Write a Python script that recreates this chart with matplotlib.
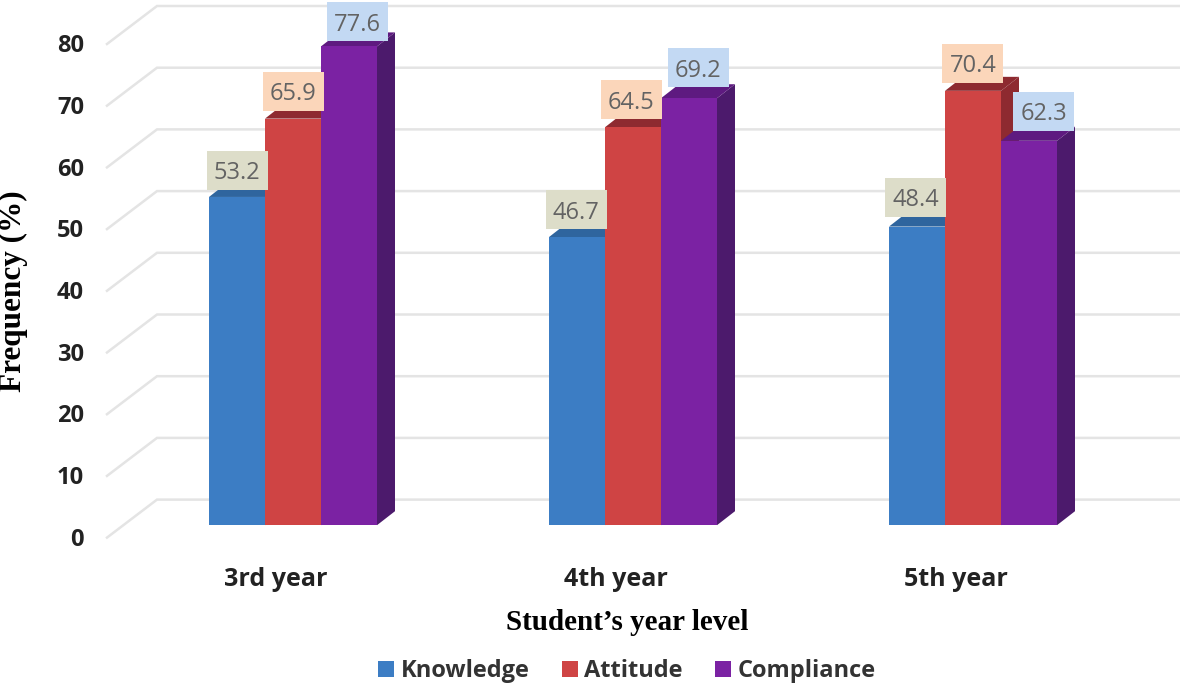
import matplotlib
matplotlib.use("Agg")
import matplotlib.pyplot as plt
from matplotlib.patches import Patch, Rectangle
from matplotlib.transforms import Affine2D

categories = ["3rd year", "4th year", "5th year"]
knowledge = [53.2, 46.7, 48.4]
attitude = [65.9, 64.5, 70.4]
compliance = [77.6, 69.2, 62.3]
y_ticks = [0, 10, 20, 30, 40, 50, 60, 70, 80]

W, H = 1180, 688
SX, SY = 340.0, 6.17           # pixels per category, pixels per percent
PX, PY = 1 / SX, 1 / SY
L, R, T, B = 107, 1180, 0, 545 # axes box, pixels
X0, Y0 = 293.0, 525.2          # pixel of category 0 and of value 0

fig = plt.figure(figsize=(W / 100, H / 100), dpi=100, facecolor="white")
ax = fig.add_axes([L / W, 1 - B / H, (R - L) / W, (B - T) / H])
ax.set_xlim((L - X0) / SX, (R - X0) / SX)
ax.set_ylim((Y0 - B) / SY, (Y0 - T) / SY)
for s in ax.spines.values():
    s.set_visible(False)

TICK_FONT = "Open Sans"
SERIF = "Liberation Serif"
GRID = "#E4E4E4"
BAR_W = 56 * PX
DX, DY = 18 * PX, 14 * PY

# 3D chart walls
BACK_X = (157 - X0) / SX
BACK_DY = 25.6 * PY
FRONT_DY = -12.4 * PY
xr = (R - X0) / SX
xl = (L - X0) / SX
for v in y_ticks:
    ax.plot([xl, BACK_X, xr], [v + FRONT_DY, v + BACK_DY, v + BACK_DY],
            color=GRID, lw=1.8, solid_joinstyle="miter", zorder=1, clip_on=False)

series = [
    ("Knowledge", knowledge, "#3C7DC4", "#2F659E", "#2A5A8E", "#DDDDC9"),
    ("Attitude", attitude, "#CF4444", "#8E2A30", "#8E2A30", "#FBD6BA"),
    ("Compliance", compliance, "#7B22A3", "#5E1A80", "#4C1A6C", "#C3D9F3"),
]

zo = 2
for si, (name, vals, front, top, side, box) in enumerate(series):
    for ci, v in enumerate(vals):
        x = ci + (si - 1) * BAR_W
        x0, x1 = x - BAR_W / 2, x + BAR_W / 2
        ax.fill([x1, x1 + DX, x1 + DX, x1], [0, DY, v + DY, v], color=side, lw=0, zorder=zo)
        ax.fill([x0, x1, x1 + DX, x0 + DX], [v, v, v + DY, v + DY], color=top, lw=0, zorder=zo)
        ax.bar(x, v, width=BAR_W, color=front, lw=0, zorder=zo)
        zo += 1

# value labels: box offset from the bar's centre and top, pixels
label_dx = {"Knowledge": [0, -1, -1], "Attitude": [0, -2, 0], "Compliance": [8, 9, 15]}
label_dy = {"Knowledge": [7, 8, 10], "Attitude": [8, 8, 8], "Compliance": [5, 11, 10]}
BOX_W, BOX_H = 61 * PX, 39 * PY
for si, (name, vals, front, top, side, box) in enumerate(series):
    for ci, v in enumerate(vals):
        cx = ci + (si - 1) * BAR_W + label_dx[name][ci] * PX
        by = v + label_dy[name][ci] * PY
        ax.add_patch(Rectangle((cx - BOX_W / 2, by), BOX_W, BOX_H, fc=box, ec="none",
                               zorder=50, clip_on=False))
        ax.text(cx, by + BOX_H / 2, f"{v:.1f}", ha="center", va="center_baseline",
                color="#636363", fontsize=17, family=TICK_FONT, zorder=51, clip_on=False)

# axes ticks and labels
ax.set_xticks(range(len(categories)), categories, family=TICK_FONT, fontweight="bold",
              fontsize=18, color="#222222")
ax.set_yticks(y_ticks, [str(v) for v in y_ticks], family=TICK_FONT, fontweight="bold",
              fontsize=17, color="#222222")
ax.tick_params(axis="x", length=0, pad=16)
ax.tick_params(axis="y", length=0, pad=16.5)
yshift = Affine2D().translate(0, -11.5)
for lab in ax.get_yticklabels():
    lab.set_transform(lab.get_transform() + yshift)
    lab.set_verticalalignment("center_baseline")
xshift = Affine2D().translate(-17, 0)
for lab in ax.get_xticklabels():
    lab.set_transform(lab.get_transform() + xshift)

ax.set_ylabel("Frequency (%)", family=SERIF, fontweight="bold", fontsize=22.5, color="black",
              va="center")
ax.yaxis.set_label_coords((13 - L) / (R - L), (B - 291) / (B - T))
ax.set_xlabel("Student’s year level", family=SERIF, fontweight="bold", fontsize=21, color="black")
ax.xaxis.set_label_coords((627 - L) / (R - L), (B - 622) / (B - T))
ax.xaxis.label.set_verticalalignment("center")

handles = [Patch(fc=s[2], ec="none", label=s[0]) for s in series]
leg = fig.legend(handles=handles, loc="center", bbox_to_anchor=(627 / W, 1 - 671 / H),
                 ncol=3, frameon=False, handlelength=0.68, handleheight=0.68,
                 handletextpad=0.28, columnspacing=1.36, borderpad=0,
                 prop={"family": TICK_FONT, "weight": "bold", "size": 17})
for t in leg.get_texts():
    t.set_color("#333333")

fig.savefig("out.png", dpi=100, facecolor="white")
